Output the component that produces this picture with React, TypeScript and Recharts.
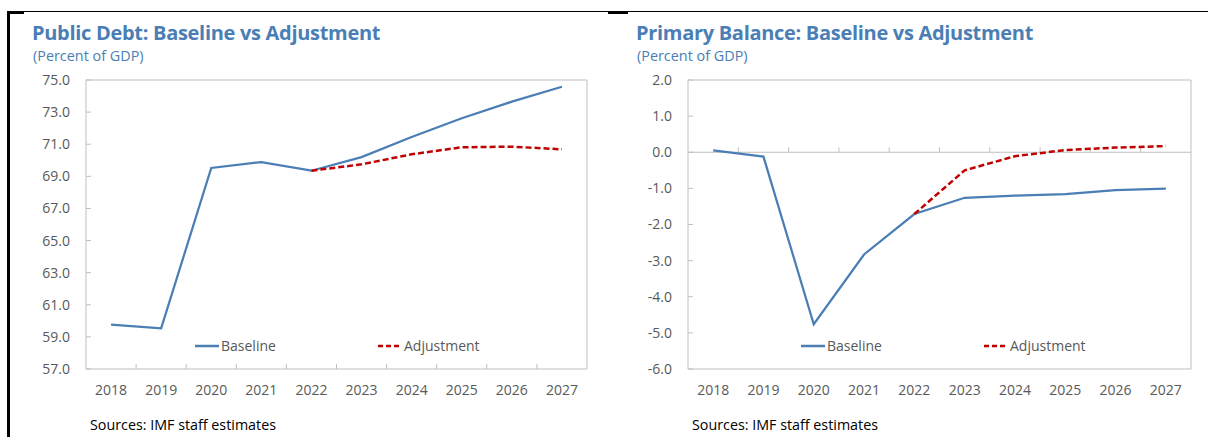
import React from 'react';
import {
  LineChart,
  Line,
  XAxis,
  YAxis,
  Legend,
  ReferenceArea,
  ReferenceLine,
} from 'recharts';

const years = ['2018', '2019', '2020', '2021', '2022', '2023', '2024', '2025', '2026', '2027'];

const debtBaseline = [59.76, 59.53, 69.52, 69.89, 69.35, 70.2, 71.45, 72.62, 73.65, 74.58];
const debtAdjustment = [null, null, null, null, 69.35, 69.75, 70.37, 70.81, 70.85, 70.68];
const debtTicks = [57, 59, 61, 63, 65, 67, 69, 71, 73, 75];

const pbBaseline = [0.05, -0.12, -4.76, -2.83, -1.71, -1.26, -1.2, -1.16, -1.05, -1.01];
const pbAdjustment = [null, null, null, null, -1.71, -0.5, -0.11, 0.06, 0.13, 0.17];
const pbTicks = [-6, -5, -4, -3, -2, -1, 0, 1, 2];

const legendOrder = ['Baseline', 'Adjustment'];

const BLUE = '#4a7eb5';
const RED = '#c00000';
const GRID = '#bfbfbf';
const TEXT = '#595959';
const FONT = '"Open Sans", "Noto Sans", sans-serif';

const debtData = years.map((year, i) => ({
  year,
  baseline: debtBaseline[i],
  adjustment: debtAdjustment[i],
}));

const pbData = years.map((year, i) => ({
  year,
  baseline: pbBaseline[i],
  adjustment: pbAdjustment[i],
}));

// horizontal line with small upward ticks on the category boundaries
const TickedLine = (props: any) => {
  const { x1, x2, y1, drawLine } = props;
  const n = years.length;
  const step = (x2 - x1) / n;
  const marks = [];
  for (let k = 1; k < n; k++) {
    const x = x1 + k * step;
    marks.push(<line key={k} x1={x} x2={x} y1={y1} y2={y1 - 5} stroke={GRID} strokeWidth={1} />);
  }
  return (
    <g>
      {drawLine && <line x1={x1} x2={x2} y1={y1} y2={y1} stroke={GRID} strokeWidth={1} />}
      {marks}
    </g>
  );
};

const LegendContent = ({ payload }: any) => {
  const items = [...(payload || [])].sort(
    (a: any, b: any) => legendOrder.indexOf(a.value) - legendOrder.indexOf(b.value)
  );
  return (
    <div style={{ display: 'flex', fontFamily: FONT, fontSize: 14, color: TEXT }}>
      {items.map((p: any) => (
        <div key={p.value} style={{ width: 183, display: 'flex', alignItems: 'center' }}>
          <svg width={25} height={10} style={{ marginRight: 1 }}>
            <line
              x1={0}
              x2={24}
              y1={5}
              y2={5}
              stroke={p.color}
              strokeWidth={2.5}
              strokeDasharray={p.value === 'Adjustment' ? '5 3' : undefined}
            />
          </svg>
          <span>{p.value}</span>
        </div>
      ))}
    </div>
  );
};

function Panel({
  left,
  title,
  data,
  domain,
  ticks,
  zeroLine,
}: {
  left: number;
  title: string;
  data: any[];
  domain: [number, number];
  ticks: number[];
  zeroLine: boolean;
}) {
  const yAxisWidth = zeroLine ? 84 : 86;
  return (
    <div style={{ position: 'absolute', left, top: 0, width: 604, height: 437 }}>
      <div
        style={{
          position: 'absolute',
          left: 32,
          top: 19,
          fontFamily: FONT,
          fontWeight: 700,
          fontSize: 20,
          color: BLUE,
          whiteSpace: 'nowrap',
          letterSpacing: -0.3,
        }}
      >
        {title}
      </div>
      <div
        style={{
          position: 'absolute',
          left: 33,
          top: 46,
          fontFamily: FONT,
          fontSize: 14.4,
          color: BLUE,
          whiteSpace: 'nowrap',
        }}
      >
        (Percent of GDP)
      </div>
      <div style={{ position: 'absolute', left: 0, top: 0 }}>
        <LineChart
          width={604}
          height={410}
          data={data}
          margin={{ top: 80, right: 17, left: 0, bottom: 0 }}
        >
          <ReferenceArea
            y1={domain[0]}
            y2={domain[1]}
            fill="none"
            stroke={GRID}
            strokeWidth={1}
            fillOpacity={0}
          />
          <XAxis
            dataKey="year"
            scale="band"
            height={41}
            axisLine={false}
            tickLine={false}
            tickSize={0}
            tickMargin={16}
            tick={{ fill: TEXT, fontSize: 14, fontFamily: FONT }}
            interval={0}
          />
          <YAxis
            domain={domain}
            ticks={ticks}
            width={yAxisWidth}
            axisLine={false}
            tickSize={-5}
            tickMargin={21}
            tickLine={{ stroke: GRID }}
            tick={{ fill: TEXT, fontSize: 14, fontFamily: FONT }}
            tickFormatter={(v: number) => v.toFixed(1)}
            allowDataOverflow
          />
          <ReferenceLine
            y={zeroLine ? 0 : domain[0]}
            stroke={GRID}
            shape={(p: any) => <TickedLine {...p} drawLine={zeroLine} />}
          />
          <Legend
            layout="horizontal"
            verticalAlign="middle"
            align="center"
            content={<LegendContent />}
            wrapperStyle={{ position: 'absolute', top: 336, left: zeroLine ? 197 : 195, width: 400 }}
          />
          <Line
            dataKey="baseline"
            name="Baseline"
            stroke={BLUE}
            strokeWidth={2.25}
            dot={false}
            activeDot={false}
            isAnimationActive={false}
          />
          <Line
            dataKey="adjustment"
            name="Adjustment"
            stroke={RED}
            strokeWidth={2.5}
            strokeDasharray="6 3"
            dot={false}
            activeDot={false}
            connectNulls={false}
            isAnimationActive={false}
          />
        </LineChart>
      </div>
      <div
        style={{
          position: 'absolute',
          left: zeroLine ? 88 : 90,
          top: 415,
          fontFamily: FONT,
          fontSize: 14.3,
          color: '#000',
          whiteSpace: 'nowrap',
        }}
      >
        Sources: IMF staff estimates
      </div>
    </div>
  );
}

export default function App() {
  return (
    <div
      style={{
        position: 'absolute',
        left: 0,
        top: 0,
        width: 1208,
        height: 437,
        background: '#fff',
        overflow: 'hidden',
      }}
    >
      {/* frame lines */}
      <div style={{ position: 'absolute', left: 7, top: 11, width: 1201, height: 1, background: '#000' }} />
      <div style={{ position: 'absolute', left: 7, top: 11, width: 17, height: 3, background: '#000' }} />
      <div style={{ position: 'absolute', left: 7, top: 11, width: 3, height: 426, background: '#000' }} />
      <div style={{ position: 'absolute', left: 608, top: 11, width: 20, height: 3, background: '#000' }} />
      <Panel
        left={0}
        title="Public Debt: Baseline vs Adjustment"
        data={debtData}
        domain={[57, 75]}
        ticks={debtTicks}
        zeroLine={false}
      />
      <Panel
        left={604}
        title="Primary Balance: Baseline vs Adjustment"
        data={pbData}
        domain={[-6, 2]}
        ticks={pbTicks}
        zeroLine={true}
      />
    </div>
  );
}
